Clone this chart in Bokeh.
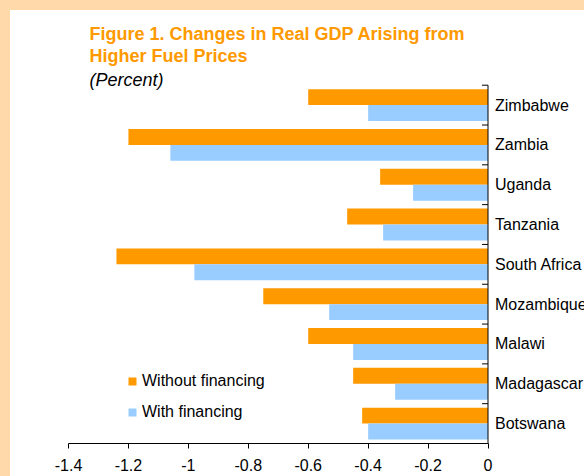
import numpy as np
from bokeh.plotting import figure
from bokeh.models import (ColumnDataSource, Range1d, FixedTicker, LinearAxis, Label, Legend, Spacer)
from bokeh.layouts import column, row
from bokeh.core.properties import value
from bokeh.embed import file_html
from bokeh.resources import INLINE

# ---- data (bottom to top) ----
countries = ["Botswana", "Madagascar", "Malawi", "Mozambique", "South Africa",
             "Tanzania", "Uganda", "Zambia", "Zimbabwe"]
without_financing = [-0.42, -0.45, -0.60, -0.75, -1.24, -0.47, -0.36, -1.20, -0.60]
with_financing = [-0.40, -0.31, -0.45, -0.53, -0.98, -0.35, -0.25, -1.06, -0.40]
x_ticks = [-1.4, -1.2, -1.0, -0.8, -0.6, -0.4, -0.2, 0.0]
x_tick_labels = ["-1.4", "-1.2", "-1", "-0.8", "-0.6", "-0.4", "-0.2", "0"]

ORANGE = "#FF9900"
BLUE = "#99CCFF"
PEACH = "#FFD9AA"
FONT = "Liberation Sans"

idx = np.arange(len(countries))
src = ColumnDataSource(dict(
    y=idx, name=countries,
    wo=without_financing, wi=with_financing,
    zero=[0.0] * len(countries),
    y_wo=idx + 0.2, y_wi=idx - 0.2,
))

p = figure(width=574, height=466, output_backend="svg", toolbar_location=None,
           x_range=Range1d(-1.4, 0.322), y_range=Range1d(-0.5, 10.376),
           x_axis_location=None, y_axis_location=None,
           min_border_left=58, min_border_right=0, min_border_top=0,
           min_border_bottom=33)
p.outline_line_color = None
p.grid.visible = False
p.background_fill_color = "white"
p.border_fill_color = "white"

r1 = p.hbar(y="y_wo", height=0.4, left="wo", right="zero", source=src,
            fill_color=ORANGE, line_color=None)
r2 = p.hbar(y="y_wi", height=0.4, left="wi", right="zero", source=src,
            fill_color=BLUE, line_color=None)

# vertical axis line at zero with boundary ticks pointing left
bounds = np.arange(len(countries) + 1) - 0.5
p.segment(x0=[0.0], y0=[bounds[0]], x1=[0.0], y1=[bounds[-1]],
          line_color="black", line_width=1)
p.ray(x=[0.0] * len(bounds), y=bounds, length=6, length_units="screen",
      angle=np.pi, line_color="black", line_width=1)

# country labels
p.text(x="zero", y="y", text="name", source=src, x_offset=7,
       text_baseline="middle", text_align="left",
       text_font=value(FONT), text_font_size="16px", text_color="black")

# bottom axis
xa = LinearAxis(ticker=FixedTicker(ticks=x_ticks), bounds=(-1.4, 0.0))
xa.major_label_overrides = {t: l for t, l in zip(x_ticks, x_tick_labels)}
xa.major_label_text_font = FONT
xa.major_label_text_font_size = "16px"
xa.major_label_text_color = "black"
xa.major_tick_in = 0
xa.major_tick_out = 5
xa.minor_tick_line_color = None
xa.axis_line_color = "black"
xa.major_label_standoff = 10
p.add_layout(xa, "below")

# titles
p.add_layout(Label(x=21, y=410, x_units="screen", y_units="screen",
                   text="Figure 1. Changes in Real GDP Arising from",
                   text_font=FONT, text_font_size="18px", text_font_style="bold",
                   text_color=ORANGE, text_baseline="alphabetic"))
p.add_layout(Label(x=21, y=387.3, x_units="screen", y_units="screen",
                   text="Higher Fuel Prices",
                   text_font=FONT, text_font_size="18px", text_font_style="bold",
                   text_color=ORANGE, text_baseline="alphabetic"))
p.add_layout(Label(x=21, y=364, x_units="screen", y_units="screen",
                   text="(Percent)",
                   text_font=FONT, text_font_size="18px", text_font_style="italic",
                   text_color="black", text_baseline="alphabetic"))

legend = Legend(items=[("Without financing", [r1]), ("With financing", [r2])],
                location=(59, 21), orientation="vertical")
legend.border_line_color = None
legend.background_fill_alpha = 0
legend.padding = 0
legend.margin = 0
legend.glyph_width = 10
legend.glyph_height = 10
legend.label_height = 20
legend.spacing = 11
legend.label_standoff = 5
legend.label_text_font = FONT
legend.label_text_font_size = "16px"
legend.label_text_color = "black"
p.add_layout(legend, "center")

top_strip = Spacer(width=584, height=10, styles={"background-color": PEACH})
left_strip = Spacer(width=10, height=466, styles={"background-color": PEACH})
layout = column(top_strip, row(left_strip, p, spacing=0), spacing=0)

open("out.html", "w").write(file_html(layout, INLINE))
